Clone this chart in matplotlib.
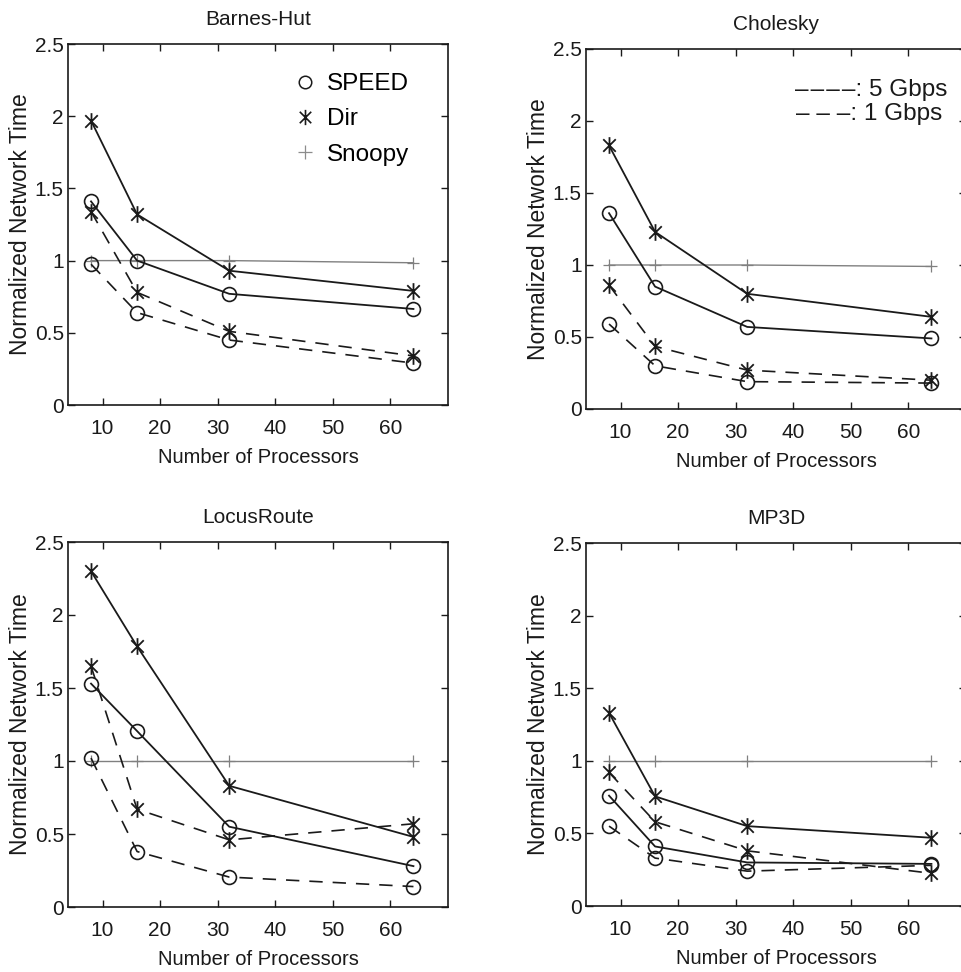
import matplotlib
matplotlib.use('Agg')
import matplotlib.pyplot as plt
from matplotlib.path import Path
from matplotlib.lines import Line2D

plt.rcParams['font.family'] = ['Liberation Sans', 'DejaVu Sans']

# data
procs = [8, 16, 32, 64]
titles = ['Barnes-Hut', 'Cholesky', 'LocusRoute', 'MP3D']

speed_5g = [[1.41, 1.00, 0.77, 0.665],
            [1.36, 0.85, 0.57, 0.49],
            [1.53, 1.205, 0.55, 0.28],
            [0.76, 0.41, 0.30, 0.29]]
dir_5g = [[1.97, 1.32, 0.93, 0.79],
          [1.83, 1.23, 0.80, 0.64],
          [2.30, 1.785, 0.83, 0.48],
          [1.33, 0.755, 0.55, 0.47]]
speed_1g = [[0.975, 0.64, 0.45, 0.29],
            [0.59, 0.30, 0.19, 0.18],
            [1.02, 0.38, 0.205, 0.14],
            [0.55, 0.33, 0.24, 0.28]]
dir_1g = [[1.34, 0.78, 0.51, 0.34],
          [0.86, 0.435, 0.27, 0.20],
          [1.65, 0.67, 0.46, 0.57],
          [0.92, 0.58, 0.38, 0.225]]
snoopy = [[1.0, 1.0, 1.0, 0.985],
          [1.0, 1.0, 1.0, 0.99],
          [1.0, 1.0, 1.0, 1.0],
          [1.0, 1.0, 1.0, 1.0]]

yticks = [0, 0.5, 1, 1.5, 2, 2.5]
ytick_labels = ['0', '0.5', '1', '1.5', '2', '2.5']
xticks = [10, 20, 30, 40, 50, 60]

# matlab style asterisk: vertical stroke plus an x
star = Path([(0, -1), (0, 1), (-0.75, -0.75), (0.75, 0.75), (-0.75, 0.75), (0.75, -0.75)],
            [Path.MOVETO, Path.LINETO, Path.MOVETO, Path.LINETO, Path.MOVETO, Path.LINETO])

W, H = 962, 972
fig = plt.figure(figsize=(W / 100, H / 100), dpi=100)

# left, top, bottom in pixels
boxes = [(68, 44, 405), (586, 49, 409), (68, 542, 907), (586, 543, 906)]

dash = (0, (8, 6))
ink = '#1a1a1a'

for i, (l, t, b) in enumerate(boxes):
    ax = fig.add_axes([l / W, 1 - b / H, 380 / W, (b - t) / H])
    ax.plot(procs, snoopy[i], color='0.5', lw=1.0, marker='+', ms=9, mew=0.9)
    ax.plot(procs, speed_5g[i], color=ink, lw=1.3, marker='o', ms=10, mfc='none', mew=1.2)
    ax.plot(procs, dir_5g[i], color=ink, lw=1.3, marker=star, ms=12, mew=1.3)
    ax.plot(procs, speed_1g[i], color=ink, lw=1.2, ls=dash, marker='o', ms=10, mfc='none', mew=1.2)
    ax.plot(procs, dir_1g[i], color=ink, lw=1.2, ls=dash, marker=star, ms=12, mew=1.3)

    ax.set_xlim(4, 70)
    ax.set_ylim(0, 2.5)
    ax.set_xticks(xticks)
    ax.set_yticks(yticks)
    ax.set_yticklabels(ytick_labels)
    ax.tick_params(direction='in', length=5, width=1, top=True, right=True,
                   labelsize=15, colors=ink)
    ax.tick_params(axis='x', pad=10)
    ax.tick_params(axis='y', pad=3)
    for s in ax.spines.values():
        s.set_linewidth(1.2)
        s.set_color(ink)
    ax.set_title(titles[i], fontsize=15, pad=14, color=ink)
    ax.set_xlabel('Number of Processors', fontsize=14.5, labelpad=7, color=ink)
    ax.set_ylabel('Normalized Network Time', fontsize=16.5, labelpad=2, color=ink)

    if i == 0:
        handles = [Line2D([], [], ls='none', marker='o', ms=9, mfc='none', mec=ink, mew=1.1),
                   Line2D([], [], ls='none', marker=star, ms=11, mec=ink, mew=1.2),
                   Line2D([], [], ls='none', marker='+', ms=10, mec='0.55', mew=0.9)]
        ax.legend(handles, ['SPEED', 'Dir', 'Snoopy'], loc='upper right',
                  bbox_to_anchor=(0.955, 0.98), frameon=False, fontsize=17.5,
                  handlelength=1.0, handletextpad=0.4, labelspacing=0.55)
    if i == 1:
        hs = '\u200a'
        ax.text(0.55, 0.885, hs.join(['\u2013'] * 4) + ': 5 Gbps', transform=ax.transAxes,
                fontsize=17.5, color=ink, va='center', ha='left')
        ax.text(0.552, 0.82, '\u2013 \u2013 \u2013: 1 Gbps', transform=ax.transAxes,
                fontsize=17.5, color=ink, va='center', ha='left')

fig.savefig('out.png', dpi=100)
